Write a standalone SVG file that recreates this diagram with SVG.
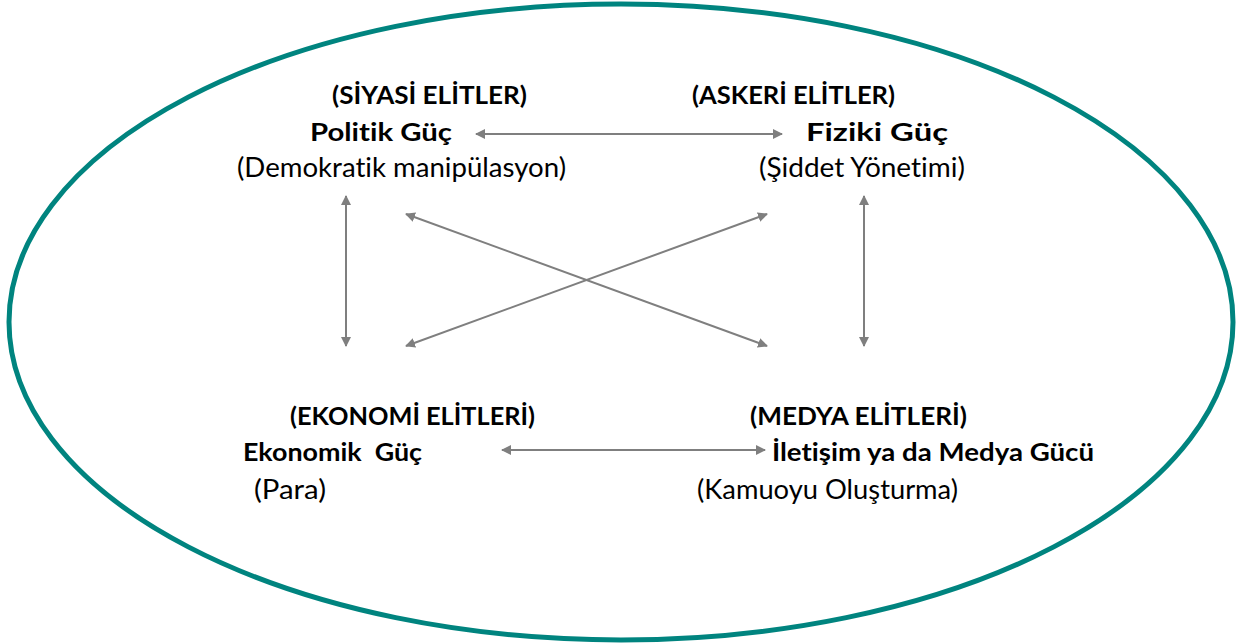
<svg xmlns="http://www.w3.org/2000/svg" width="1241" height="644" viewBox="0 0 1241 644">
<defs>
<marker id="ah" viewBox="0 0 10 10" refX="9" refY="5" markerWidth="5" markerHeight="5" orient="auto-start-reverse" markerUnits="strokeWidth">
<path d="M0,0 L10,5 L0,10 z" fill="#7f7f7f"/>
</marker>
<style>
.t{font-family:Lato,"Open Sans","Liberation Sans",sans-serif;fill:#000;font-variant-ligatures:none;font-feature-settings:"liga" 0,"clig" 0;}
.b{font-weight:bold;font-size:25px;}
.r{font-size:26px;}
.c{stroke:#7f7f7f;stroke-width:2;fill:none;marker-start:url(#ah);marker-end:url(#ah);}
</style>
</defs>
<rect width="1241" height="644" fill="#fff"/>
<ellipse cx="621" cy="322" rx="612" ry="318" fill="none" stroke="#00847f" stroke-width="5"/>
<g id="connectors">
<line class="c" x1="476" y1="134" x2="782" y2="134"/>
<line class="c" x1="346" y1="196" x2="346" y2="346"/>
<line class="c" x1="864" y1="196" x2="864" y2="346"/>
<line class="c" x1="406" y1="214" x2="767" y2="346"/>
<line class="c" x1="767" y1="214" x2="406" y2="346"/>
<line class="c" x1="502" y1="450" x2="765" y2="450"/>
</g>
<g id="siyasi">
<text class="t b" x="332" y="104" textLength="195" lengthAdjust="spacingAndGlyphs">(SİYASİ ELİTLER)</text>
<text class="t b" x="310" y="141" textLength="142" lengthAdjust="spacingAndGlyphs">Politik Güç</text>
<text class="t r" x="237" y="177" textLength="329" lengthAdjust="spacingAndGlyphs">(Demokratik manipülasyon)</text>
</g>
<g id="askeri">
<text class="t b" x="692" y="104" textLength="203" lengthAdjust="spacingAndGlyphs">(ASKERİ ELİTLER)</text>
<text class="t b" x="806" y="141" textLength="142" lengthAdjust="spacingAndGlyphs">Fiziki Güç</text>
<text class="t r" x="759" y="177" textLength="206" lengthAdjust="spacingAndGlyphs">(Şiddet Yönetimi)</text>
</g>
<g id="ekonomi">
<text class="t b" x="290" y="425" textLength="245" lengthAdjust="spacingAndGlyphs">(EKONOMİ ELİTLERİ)</text>
<text class="t b" x="243" y="461" textLength="179" lengthAdjust="spacingAndGlyphs" xml:space="preserve">Ekonomik  Güç</text>
<text class="t r" x="254" y="499" textLength="72" lengthAdjust="spacingAndGlyphs">(Para)</text>
</g>
<g id="medya">
<text class="t b" x="750" y="425" textLength="217" lengthAdjust="spacingAndGlyphs">(MEDYA ELİTLERİ)</text>
<text class="t b" x="772" y="461" textLength="322" lengthAdjust="spacingAndGlyphs">İletişim ya da Medya Gücü</text>
<text class="t r" x="697" y="499" textLength="261" lengthAdjust="spacingAndGlyphs">(Kamuoyu Oluşturma)</text>
</g>
</svg>
